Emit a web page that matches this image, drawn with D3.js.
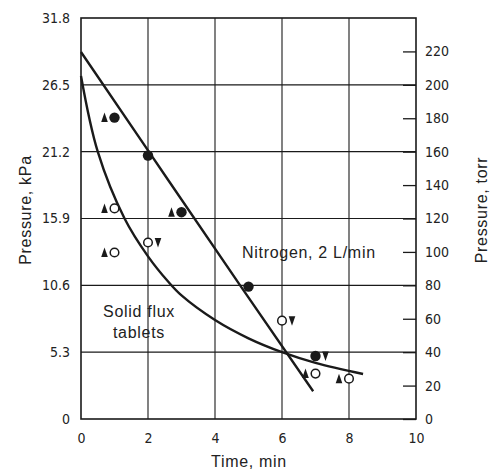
<!DOCTYPE html>
<html><head><meta charset="utf-8">
<script src="https://cdn.jsdelivr.net/npm/d3@7"></script>
<style>
html,body{margin:0;padding:0;background:#fff;}
svg{display:block;}
.tick-lab{font-family:"DejaVu Sans Condensed","Liberation Sans Narrow","Liberation Sans",Arial,sans-serif;font-size:14px;fill:#222;}
.lab{font-family:"Liberation Sans",Arial,Helvetica,sans-serif;font-size:16px;letter-spacing:0.7px;fill:#222;}
</style></head>
<body><svg id="c" width="492" height="471"></svg>
<script>
// ---- data ----
const xTicks = [0, 2, 4, 6, 8, 10];
const kPaTicks = [0, 5.3, 10.6, 15.9, 21.2, 26.5, 31.8];
const kPaTickLabels = ["0", "5.3", "10.6", "15.9", "21.2", "26.5", "31.8"];
const torrTicks = [0, 20, 40, 60, 80, 100, 120, 140, 160, 180, 200, 220];

// Nitrogen, 2 L/min (filled circles)
const nitrogenTime = [1, 2, 3, 5, 7];
const nitrogenKPa = [23.9, 20.9, 16.4, 10.5, 5.0];
// Solid flux tablets (open circles)
const fluxTime = [1, 1, 2, 6, 7, 8];
const fluxKPa = [16.7, 13.2, 14.0, 7.8, 3.6, 3.2];
// companion triangles (up = left of point, down = right of point)
const triUpTime = [1, 3, 1, 1, 7, 8];
const triUpKPa = [23.9, 16.4, 16.7, 13.2, 3.6, 3.2];
const triDownTime = [7, 2, 6];
const triDownKPa = [5.0, 14.0, 7.8];

// fitted curves
const nitrogenFitTime = [0, 2, 4.75, 6.93];
const nitrogenFitKPa = [29.1, 21.3, 10.6, 2.2];
const fluxFitTime = [0, 0.5, 1.3, 2, 2.6, 3, 4, 5, 6, 7, 8.42];
const fluxFitKPa = [27.2, 21.2, 15.9, 12.9, 10.9, 9.8, 7.85, 6.4, 5.3, 4.45, 3.57];

// ---- layout ----
const svg = d3.select("#c");
const L = 81, R = 416, T = 18, B = 419;
const x = d3.scaleLinear().domain([0, 10]).range([L, R]);
const y = d3.scaleLinear().domain([0, 31.8]).range([B, T]);
const yTorr = d3.scaleLinear().domain([0, 240]).range([B, T]);
const ink = "#1a1a1a";

// grid
const g = svg.append("g");
g.selectAll("line.gx").data(xTicks.filter(d => d > 0 && d < 10)).join("line")
  .attr("x1", d => x(d)).attr("x2", d => x(d)).attr("y1", T).attr("y2", B)
  .attr("stroke", ink).attr("stroke-width", 1.1);
g.selectAll("line.gy").data(kPaTicks.filter(d => d > 0 && d < 31.8)).join("line")
  .attr("x1", L).attr("x2", R).attr("y1", d => y(d)).attr("y2", d => y(d))
  .attr("stroke", ink).attr("stroke-width", 1.1);

// frame
svg.append("rect").attr("x", L).attr("y", T).attr("width", R - L).attr("height", B - T)
  .attr("fill", "none").attr("stroke", ink).attr("stroke-width", 1.6);

// axes via d3 (ticks styled)
const xAxis = svg.append("g").attr("transform", `translate(0,${B})`)
  .call(d3.axisBottom(x).tickValues(xTicks).tickSize(0).tickPadding(14).tickFormat(d3.format("d")));
const yAxis = svg.append("g").attr("transform", `translate(${L},0)`)
  .call(d3.axisLeft(y).tickValues(kPaTicks).tickSize(0).tickPadding(11).tickFormat((d, i) => kPaTickLabels[i]));
const yAxisR = svg.append("g").attr("transform", `translate(${R},0)`)
  .call(d3.axisRight(yTorr).tickValues(torrTicks).tickSize(-13).tickPadding(9).tickFormat(d3.format("d")));
[xAxis, yAxis, yAxisR].forEach(a => {
  a.select(".domain").remove();
  a.selectAll("text").attr("class", "tick-lab").attr("font-size", null).attr("font-family", null);
  a.selectAll("line").attr("stroke", ink).attr("stroke-width", 1.3);
});
yAxisR.selectAll(".tick text").attr("x", 9);

// curves
const lineGen = d3.line().x(d => x(d[0])).y(d => y(d[1]));
svg.append("path").datum(d3.zip(nitrogenFitTime, nitrogenFitKPa))
  .attr("d", lineGen.curve(d3.curveMonotoneX))
  .attr("fill", "none").attr("stroke", ink).attr("stroke-width", 2.4);
svg.append("path").datum(d3.zip(fluxFitTime, fluxFitKPa))
  .attr("d", d3.line().x(d => x(d[0])).y(d => y(d[1])).curve(d3.curveCatmullRom.alpha(0.5)))
  .attr("fill", "none").attr("stroke", ink).attr("stroke-width", 2.4);

// markers
svg.selectAll("circle.n").data(d3.zip(nitrogenTime, nitrogenKPa)).join("circle")
  .attr("cx", d => x(d[0])).attr("cy", d => y(d[1])).attr("r", 5.2).attr("fill", ink);
svg.selectAll("circle.f").data(d3.zip(fluxTime, fluxKPa)).join("circle")
  .attr("cx", d => x(d[0])).attr("cy", d => y(d[1])).attr("r", 4.3)
  .attr("fill", "#fff").attr("stroke", ink).attr("stroke-width", 1.5);
svg.selectAll("path.tu").data(d3.zip(triUpTime, triUpKPa)).join("path")
  .attr("transform", d => `translate(${x(d[0]) - 10},${y(d[1])})`)
  .attr("d", "M0,-5L3.3,4.5L-3.3,4.5Z").attr("fill", ink);
svg.selectAll("path.td").data(d3.zip(triDownTime, triDownKPa)).join("path")
  .attr("transform", d => `translate(${x(d[0]) + 10},${y(d[1])})`)
  .attr("d", "M0,5L3.3,-4.5L-3.3,-4.5Z").attr("fill", ink);

// labels
svg.append("text").attr("class", "lab").attr("x", 249).attr("y", 467).attr("text-anchor", "middle").text("Time, min");
svg.append("text").attr("class", "lab").attr("transform", "translate(31,210) rotate(-90)").attr("text-anchor", "middle").text("Pressure, kPa");
svg.append("text").attr("class", "lab").attr("transform", "translate(487,210) rotate(-90)").attr("text-anchor", "middle").text("Pressure, torr");
svg.append("text").attr("class", "lab").attr("x", 242).attr("y", 258).text("Nitrogen, 2 L/min");
svg.append("text").attr("class", "lab").attr("x", 139).attr("y", 317).attr("text-anchor", "middle").text("Solid flux");
svg.append("text").attr("class", "lab").attr("x", 139).attr("y", 338).attr("text-anchor", "middle").text("tablets");
</script></body></html>
